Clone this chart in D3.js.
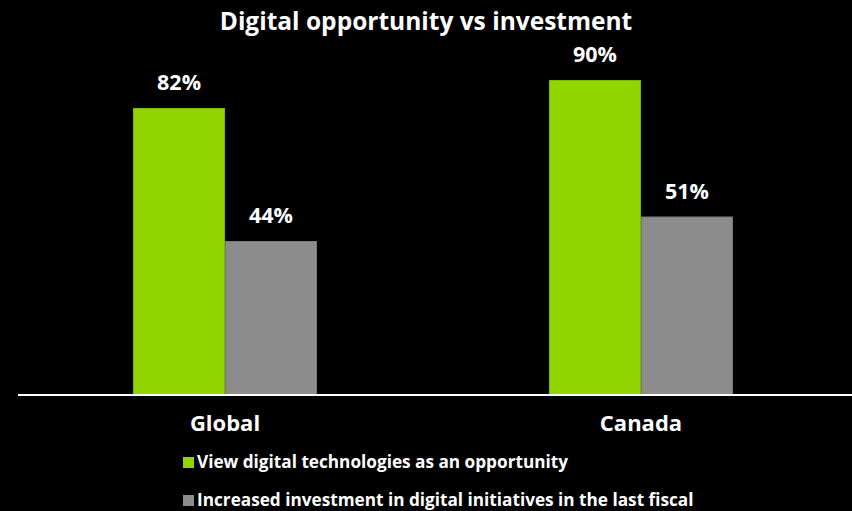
<!DOCTYPE html>
<html>
<head>
<meta charset="utf-8">
<script src="https://cdn.jsdelivr.net/npm/d3@7"></script>
<style>
  html, body { margin: 0; padding: 0; background: #000; }
  svg { display: block; }
  text { font-family: "Open Sans", "Noto Sans", sans-serif; font-weight: 700; fill: #fff; }
</style>
</head>
<body>
<svg id="chart" width="852" height="511"></svg>
<script>
// Chart data
const categories = ["Global", "Canada"];
const seriesNames = [
  "View digital technologies as an opportunity",
  "Increased investment in digital initiatives in the last fiscal"
];
const opportunityValues = [82, 90];
const investmentValues = [44, 51];
const seriesColors = ["#92D400", "#8C8C8C"];
const seriesStrokes = ["#7FB800", "#7A7A7A"];

const W = 852, H = 511;
const svg = d3.select("#chart");
svg.append("rect").attr("width", W).attr("height", H).attr("fill", "#000");

const baseline = 395;
const plotTop = 45;

const x0 = d3.scaleBand()
  .domain(categories)
  .range([17, 849])
  .paddingInner(0.5577)
  .paddingOuter(0.279);

const x1 = d3.scaleBand()
  .domain(d3.range(seriesNames.length))
  .range([0, x0.bandwidth()]);

const y = d3.scaleLinear().domain([0, 100]).range([baseline, plotTop]);

const seriesValues = [opportunityValues, investmentValues];
const rows = categories.map((c, i) => ({
  category: c,
  values: seriesValues.map((vals, s) => ({ s, v: vals[i] }))
}));

// Title
svg.append("text")
  .attr("x", W / 2).attr("y", 30)
  .attr("text-anchor", "middle")
  .attr("font-size", 24.5)
  .text("Digital opportunity vs investment");

// Bars
const groups = svg.selectAll("g.group").data(rows).join("g")
  .attr("class", "group")
  .attr("transform", d => `translate(${x0(d.category)},0)`);

groups.selectAll("rect").data(d => d.values).join("rect")
  .attr("x", d => x1(d.s) + 0.5)
  .attr("y", d => y(d.v) + 0.5)
  .attr("width", x1.bandwidth() - 1)
  .attr("height", d => baseline - y(d.v) - 0.5)
  .attr("fill", d => seriesColors[d.s])
  .attr("stroke", d => seriesStrokes[d.s])
  .attr("stroke-width", 1);

// Value labels
groups.selectAll("text.value").data(d => d.values).join("text")
  .attr("class", "value")
  .attr("x", d => x1(d.s) + x1.bandwidth() / 2)
  .attr("y", d => y(d.v) - 18)
  .attr("text-anchor", "middle")
  .attr("font-size", 21.5)
  .text(d => d.v + "%");

// Category axis
const xAxis = d3.axisBottom(x0).tickSize(0).tickPadding(0);
const axisG = svg.append("g")
  .attr("transform", `translate(0,${baseline})`)
  .call(xAxis);
axisG.select(".domain").remove();
axisG.append("line")
  .attr("x1", 18).attr("x2", W)
  .attr("y1", 0).attr("y2", 0)
  .attr("stroke", "#fff").attr("stroke-width", 2);
axisG.selectAll(".tick text")
  .attr("dy", null)
  .attr("y", 36)
  .attr("font-size", 22)
  .attr("fill", "#fff")
  .style("font-family", "'Open Sans', 'Noto Sans', sans-serif")
  .style("font-weight", 700);

// Legend
const legend = svg.append("g").attr("transform", "translate(183,0)");
const legendRows = [468, 506];
seriesNames.forEach((name, i) => {
  const g = legend.append("g").attr("transform", `translate(0,${legendRows[i]})`);
  g.append("rect")
    .attr("x", 0).attr("y", -11)
    .attr("width", 11).attr("height", 11)
    .attr("fill", seriesColors[i]);
  g.append("text")
    .attr("x", 14).attr("y", 0)
    .attr("font-size", 17.2)
    .text(name);
});
</script>
</body>
</html>
